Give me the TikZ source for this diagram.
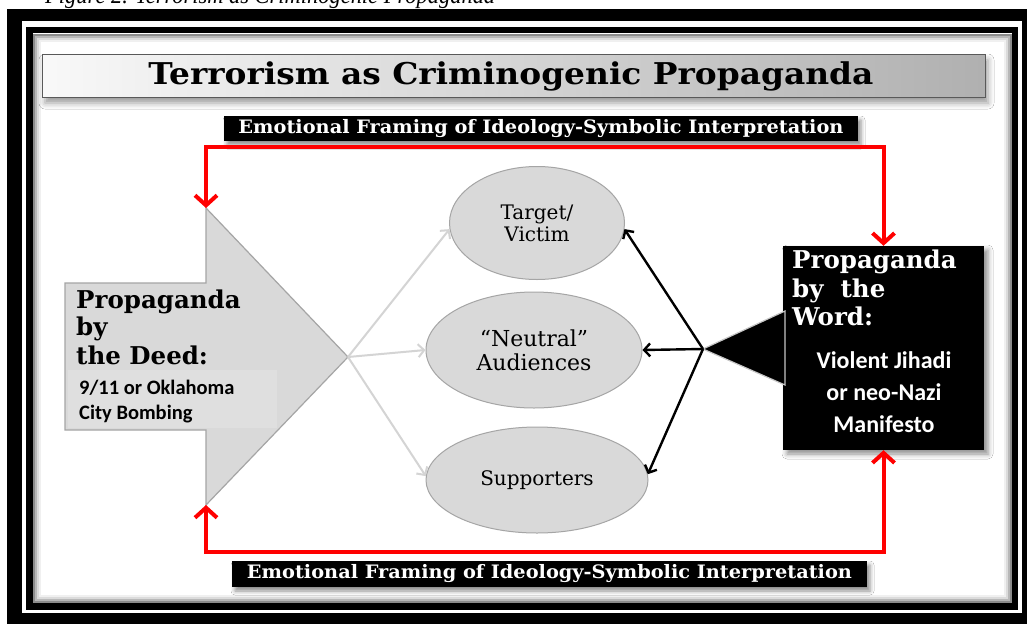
\documentclass[tikz,border=0pt]{standalone}
\usepackage{fontspec}
\usepackage{graphicx}
\setmainfont{DejaVu Serif}
\newfontfamily\capfont{Liberation Serif}
\newfontfamily\calfont{Carlito}
\usetikzlibrary{arrows.meta,shapes.geometric,shadows.blur}
\definecolor{fillgray}{RGB}{217,217,217}
\definecolor{edgegray}{RGB}{165,165,165}
\definecolor{softgray}{RGB}{223,223,223}
\definecolor{linkgray}{RGB}{212,212,212}
% stretch a line of text to a given width, keeping its height
\newcommand\fitto[2]{\resizebox{#1}{\height}{#2}}

\begin{document}
\begin{tikzpicture}[x=1pt,y=-1pt,
  softshadow/.style={blur shadow={shadow xshift=3pt, shadow yshift=-4pt,
      shadow opacity=45, shadow blur radius=4pt}},
  audience/.style={ellipse, draw=edgegray, line width=1pt, fill=fillgray,
      inner sep=0pt, align=center, font=\fontsize{20}{22}\selectfont},
  serifline/.style={anchor=base west, inner sep=0pt,
      font=\bfseries\fontsize{24.5}{24.5}\selectfont},
  sansline/.style={inner sep=0pt, font=\calfont\bfseries\fontsize{20.5}{20.5}\selectfont},
  feedback/.style={draw=red, line width=4pt,
      {Straight Barb[length=10pt,width=22pt]}-{Straight Barb[length=10pt,width=22pt]}},
  spread/.style={draw=linkgray, line width=2pt, -{Straight Barb[length=6pt,width=13pt]}},
  reach/.style={draw=black, line width=2.4pt, -{Straight Barb[length=6pt,width=13pt]}},
  captionbar/.style={fill=black, text=white, inner sep=0pt, softshadow,
      font=\bfseries\fontsize{18.5}{18.5}\selectfont}
]
\useasboundingbox (0,0) rectangle (1027,624);

% figure caption, cut by the page top
\begin{scope}
  \clip (0,0) rectangle (1027,624);
  \node[anchor=base west, inner sep=0pt, font=\capfont\itshape\fontsize{24}{24}\selectfont]
    (figcap) at (45,3) {\fitto{450pt}{Figure 2. Terrorism as Criminogenic Propaganda}};
\end{scope}

% double frame
\fill[black] (7,9) rectangle (1027,624);
\fill[white] (22,21) rectangle (1022,613);
\foreach \d/\o in {4.5/0.45,6.5/0.28,8.5/0.14,10.5/0.06}
  \draw[black, opacity=\o, line width=2pt] (29.5+\d,30+\d) rectangle (1015-\d,606.5-\d);
\draw[black, line width=6.5pt] (29.5,30) rectangle (1015,606.5);

% title banner
\node[draw=gray!70!black, line width=0.8pt, left color=gray!5, right color=gray!62,
      minimum width=943pt, minimum height=43pt, inner sep=0pt,
      blur shadow={shadow xshift=3pt, shadow yshift=-6pt, shadow opacity=40, shadow blur radius=6pt}]
  (banner) at (513.5,75.5) {};
\node[anchor=base, inner sep=0pt, font=\bfseries\fontsize{30}{30}\selectfont]
  (title) at (511,84) {\fitto{725pt}{Terrorism as Criminogenic Propaganda}};

% caption bars
\node[captionbar, minimum width=634pt, minimum height=25pt] (frameTop) at (541,128.5)
  {\fitto{605pt}{Emotional Framing of Ideology-Symbolic Interpretation}};
\node[captionbar, minimum width=635pt, minimum height=26pt] (frameBot) at (549.5,574)
  {\fitto{605pt}{Emotional Framing of Ideology-Symbolic Interpretation}};

% the deed: big block arrow
\coordinate (deedTop) at (206,208);
\coordinate (deedTip) at (348,357);
\coordinate (deedBot) at (206,505);
\path[fill=fillgray, draw=edgegray, line width=1.2pt]
  (65,283) -- (206,283) -- (deedTop) -- (deedTip) -- (deedBot) -- (206,430) -- (65,430) -- cycle;
\fill[softgray] (68,370) rectangle (277,428);

\node[serifline] (deedA) at (76,308) {Propaganda};
\node[serifline] (deedB) at (76,335) {by};
\node[serifline] (deedC) at (76,364) {the Deed:};
\node[sansline, anchor=base west] (deedD) at (79,394) {9/11 or Oklahoma};
\node[sansline, anchor=base west] (deedE) at (79,419) {City Bombing};

% audiences
\node[audience, minimum width=175pt, minimum height=113pt] (tv) at (537,223) {Target/\\Victim};
\node[audience, minimum width=216pt, minimum height=116pt,
      font=\fontsize{22}{24}\selectfont] (neu) at (534,350) {“Neutral”\\Audiences};
\node[audience, minimum width=222pt, minimum height=106pt] (sup) at (537,480) {Supporters};

\draw[spread] (deedTip) -- (tv.184);
\draw[spread] (deedTip) -- (neu.west);
\draw[spread] (deedTip) -- (sup.178);

% the word: black box with its pointer
\node[fill=black, minimum width=201pt, minimum height=204pt, inner sep=0pt,
      blur shadow={shadow xshift=4pt, shadow yshift=-4pt, shadow opacity=45, shadow blur radius=5pt}]
  (word) at (883.5,348) {};
\coordinate (hub) at (703,349);
\path[fill=black, draw=gray!45, line width=1.2pt] (hub) -- (785,311) -- (785,385) -- cycle;

\node[serifline, text=white] (wordA) at (792,268) {Propaganda};
\node[serifline, text=white] (wordB) at (792,297) {by\ \ the};
\node[serifline, text=white] (wordC) at (792,325) {Word:};
\node[sansline, anchor=base, text=white, font=\calfont\bfseries\fontsize{24}{24}\selectfont]
  (wordD) at (884,368) {Violent Jihadi};
\node[sansline, anchor=base, text=white, font=\calfont\bfseries\fontsize{24}{24}\selectfont]
  (wordE) at (884,400) {or neo-Nazi};
\node[sansline, anchor=base, text=white, font=\calfont\bfseries\fontsize{24}{24}\selectfont]
  (wordF) at (884,432) {Manifesto};

\draw[reach] (hub) -- (tv.-4);
\draw[reach] (hub) -- (neu.east);
\draw[reach] (hub) -- (sup.3);

% feedback loops
\coordinate (cornerTL) at (206,147);
\coordinate (cornerBL) at (206,552);
\draw[feedback] (word.north) |- (cornerTL) -- (deedTop);
\draw[feedback] (deedBot) -- (cornerBL) -| (word.south);
\end{tikzpicture}
\end{document}
